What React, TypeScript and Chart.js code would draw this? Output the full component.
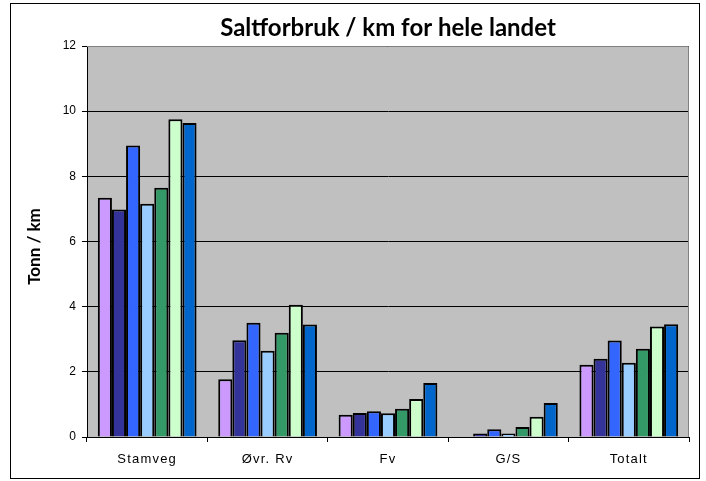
import React, { useEffect, useRef } from "react";
import { Chart, registerables } from "chart.js";

Chart.register(...registerables);

const title = "Saltforbruk / km for hele landet";
const yAxisTitle = "Tonn / km";
const categories = ["Stamveg", "Øvr. Rv", "Fv", "G/S", "Totalt"];

const series1 = [7.34, 1.77, 0.68, 0, 2.22];
const series2 = [6.98, 2.97, 0.74, 0.11, 2.4];
const series3 = [8.95, 3.51, 0.79, 0.24, 2.96];
const series4 = [7.16, 2.65, 0.73, 0.11, 2.28];
const series5 = [7.65, 3.2, 0.87, 0.31, 2.71];
const series6 = [9.75, 4.06, 1.17, 0.62, 3.39];
const series7 = [9.64, 3.45, 1.66, 1.04, 3.46];

const seriesList = [series1, series2, series3, series4, series5, series6, series7];
const seriesColors = ["#CC99FF", "#333399", "#3366FF", "#99CCFF", "#339966", "#CCFFCC", "#0066CC"];

const yMin = 0;
const yMax = 12;
const yStep = 2;

const decorPlugin = {
  id: "decor",
  beforeDraw(chart: any) {
    const { ctx, chartArea } = chart;
    ctx.save();
    ctx.fillStyle = "#ffffff";
    ctx.fillRect(0, 0, chart.width, chart.height);
    ctx.fillStyle = "#C0C0C0";
    ctx.fillRect(chartArea.left, chartArea.top, chartArea.right - chartArea.left, chartArea.bottom - chartArea.top);
    ctx.restore();
  },
  beforeDatasetsDraw(chart: any) {
    const { ctx, chartArea } = chart;
    ctx.save();
    ctx.strokeStyle = "#808080";
    ctx.lineWidth = 1;
    ctx.beginPath();
    ctx.moveTo(chartArea.left, chartArea.top + 0.5);
    ctx.lineTo(chartArea.right - 0.5, chartArea.top + 0.5);
    ctx.lineTo(chartArea.right - 0.5, chartArea.bottom);
    ctx.stroke();
    ctx.restore();
  },
  afterDraw(chart: any) {
    const { ctx, chartArea } = chart;
    ctx.save();
    ctx.strokeStyle = "#000000";
    ctx.lineWidth = 1;
    ctx.strokeRect(10.5, 3.5, 689, 475);
    ctx.fillStyle = "#000000";
    ctx.font = "bold 24px Lato, 'Open Sans', sans-serif";
    ctx.textAlign = "center";
    ctx.textBaseline = "middle";
    ctx.fillText(title, (chartArea.left + chartArea.right) / 2, 28);
    ctx.translate(35, (chartArea.top + chartArea.bottom) / 2 + 5);
    ctx.rotate(-Math.PI / 2);
    ctx.font = "bold 17px Lato, 'Open Sans', sans-serif";
    ctx.fillText(yAxisTitle, 0, 0);
    ctx.restore();
  },
};

export default function App() {
  const canvasRef = useRef<HTMLCanvasElement | null>(null);

  useEffect(() => {
    document.body.style.margin = "0";
    const canvas = canvasRef.current;
    if (!canvas) return;
    const chart = new Chart(canvas, {
      type: "bar",
      data: {
        labels: categories,
        datasets: seriesList.map((values, i) => ({
          label: "Serie " + (i + 1),
          data: values,
          backgroundColor: seriesColors[i],
          borderColor: "#000000",
          borderWidth: 2,
          categoryPercentage: 0.82,
          barPercentage: 1,
        })),
      },
      options: {
        responsive: false,
        animation: false,
        devicePixelRatio: 1,
        layout: { padding: { left: 0, right: 17, top: 46, bottom: 0 } },
        plugins: {
          legend: { display: false },
          title: { display: false },
          tooltip: { enabled: false },
        },
        scales: {
          x: {
            offset: true,
            grid: {
              offset: true,
              drawOnChartArea: false,
              drawTicks: true,
              tickLength: 5,
              color: "#000000",
            },
            border: { display: true, color: "#000000", width: 1 },
            ticks: {
              color: "#000000",
              font: { family: "'Liberation Sans', Arial, sans-serif", size: 13 },
              padding: 10,
              maxRotation: 0,
            },
            afterFit(scale: any) {
              scale.height = 44;
              if (!scale._spaced) {
                const orig = scale.drawLabels.bind(scale);
                scale.drawLabels = (area: any) => {
                  const c = scale.ctx;
                  c.save();
                  c.letterSpacing = "1.2px";
                  orig(area);
                  c.restore();
                };
                scale._spaced = true;
              }
            },
          },
          y: {
            min: yMin,
            max: yMax,
            grid: {
              color: "#000000",
              tickLength: 5,
              drawTicks: true,
            },
            border: { display: true, color: "#000000", width: 1 },
            ticks: {
              stepSize: yStep,
              color: "#000000",
              font: { family: "'Liberation Sans', Arial, sans-serif", size: 12 },
              padding: 6,
            },
            afterFit(scale: any) {
              scale.width = 87;
            },
          },
        },
      },
      plugins: [decorPlugin],
    });
    return () => chart.destroy();
  }, []);

  return (
    <div style={{ width: 706, height: 481 }}>
      <canvas ref={canvasRef} width={706} height={481} style={{ display: "block" }} />
    </div>
  );
}
